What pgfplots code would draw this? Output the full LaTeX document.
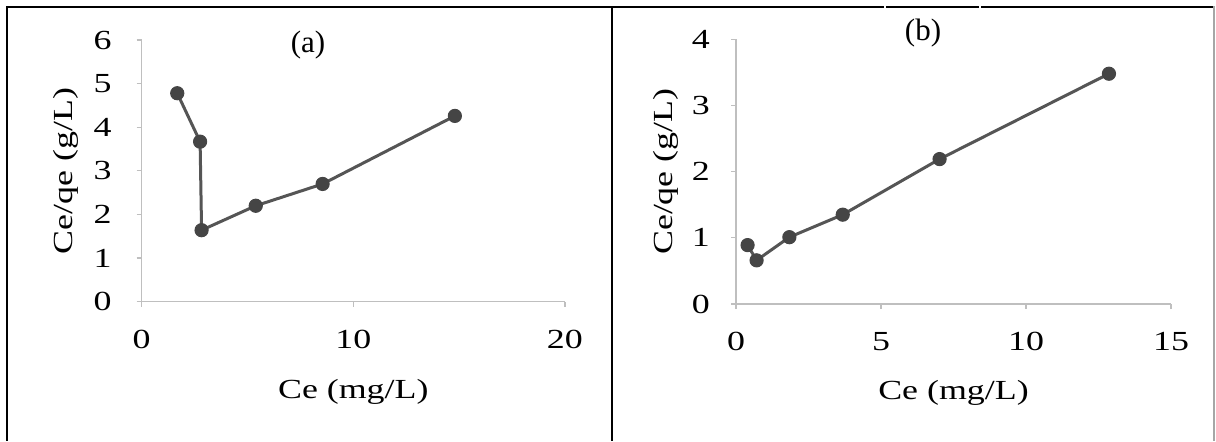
\documentclass[border=0pt]{standalone}
\usepackage{fontspec}
\setmainfont{Liberation Serif}
\newfontfamily\widefont[FakeStretch=1.3]{Liberation Serif}
\usepackage{pgfplots}
\pgfplotsset{compat=1.18}
\definecolor{axgray}{HTML}{BFBFBF}
\definecolor{lngray}{HTML}{555555}
\definecolor{mkgray}{HTML}{454545}
\pgfplotsset{
  myaxis/.style={
    scale only axis,
    anchor=south west,
    font=\widefont\fontsize{13.8}{16}\selectfont,
    /pgf/number format/assume math mode=true,
    axis lines*=left,
    axis line style={draw=axgray, line width=0.6pt},
    tick style={draw=axgray, line width=0.6pt},
    tick align=outside,
    major tick length=2.5pt,
    ymin=0,
    xmin=0,
    clip=false,
    xticklabel style={yshift=-8pt},
    ylabel style={at={(axis description cs:0,0.5)}, anchor=center},
    xlabel style={at={(axis description cs:0.5,0)}, anchor=center},
  },
  myplot/.style={color=lngray, line width=1.5pt, mark=*, mark size=3.3pt,
    mark options={fill=mkgray, draw=mkgray, line width=0.5pt}},
}
\begin{document}
\begin{tikzpicture}
\path[use as bounding box] (0,0) rectangle (608pt,-220.5pt);
% left panel
\begin{axis}[myaxis,
  at={(70.85pt,-150.85pt)},
  width=211.6pt, height=130.85pt,
  xmax=20, ymax=6,
  xtick={0,10,20}, ytick={0,1,2,3,4,5,6},
  yticklabel style={xshift=-9pt},
  xlabel={Ce (mg/L)}, ylabel={Ce/qe (g/L)},
  xlabel style={yshift=-45pt},
  ylabel style={yshift=37.9pt},
]
\addplot[myplot] coordinates {
(1.68,4.78) (2.76,3.67) (2.83,1.64) (5.39,2.20) (8.55,2.70) (14.8,4.26)
};
\node[font=\rmfamily\fontsize{15.5}{18}\selectfont] at (axis description cs:0.393,0.981) {(a)};
\end{axis}
% right panel
\begin{axis}[myaxis,
  at={(368pt,-152pt)},
  width=217.5pt, height=132.35pt,
  xmax=15, ymax=4,
  xtick={0,5,10,15}, ytick={0,1,2,3,4},
  yticklabel style={xshift=-7pt},
  xlabel={Ce (mg/L)}, ylabel={Ce/qe (g/L)},
  xlabel style={yshift=-44.5pt},
  ylabel style={yshift=35pt},
]
\addplot[myplot] coordinates {
(0.40,0.89) (0.71,0.66) (1.84,1.01) (3.68,1.35) (7.02,2.19) (12.86,3.48)
};
\node[font=\rmfamily\fontsize{15.5}{18}\selectfont] at (axis description cs:0.43,1.024) {(b)};
\end{axis}
% borders
\draw[black, line width=1.1pt] (3pt,-3.3pt) -- (607pt,-3.3pt);
\draw[black, line width=1.1pt] (3.35pt,-3pt) -- (3.35pt,-220.5pt);
\draw[black, line width=1.1pt] (305.85pt,-3pt) -- (305.85pt,-220.5pt);
\draw[gray!70, line width=0.8pt] (607pt,-3pt) -- (607pt,-220.5pt);
\draw[white, line width=0.8pt] (442.5pt,-2pt) -- (442.5pt,-5pt);
\draw[white, line width=0.8pt] (490pt,-2pt) -- (490pt,-5pt);
\end{tikzpicture}
\end{document}
